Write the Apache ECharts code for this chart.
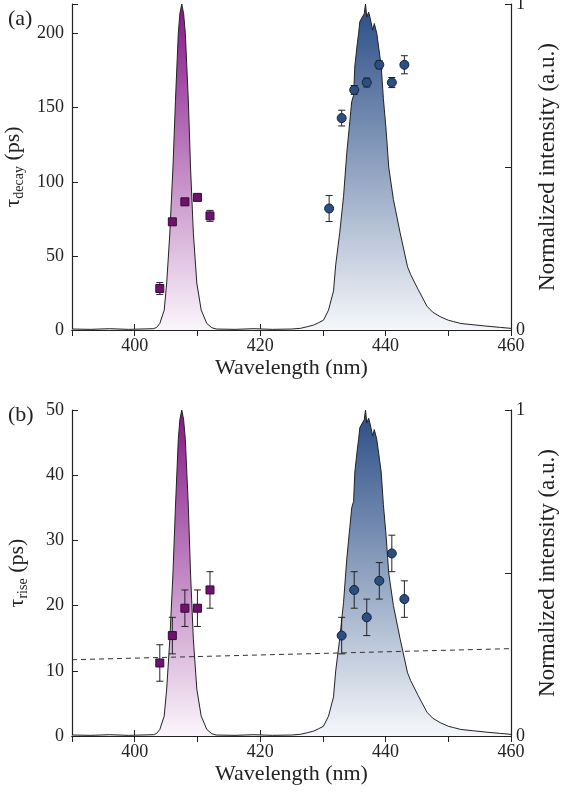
<!DOCTYPE html>
<html>
<head>
<meta charset="utf-8">
<script src="https://cdn.jsdelivr.net/npm/echarts@6/dist/echarts.min.js"></script>
<style>
html,body{margin:0;padding:0;background:#fff;}
#chart{width:565px;height:792px;}
</style>
</head>
<body>
<div id="chart"></div>
<script>
// ---- data ----
const purpleSpectrum = [
  [390,0.003],[393,0.002],[396,0.004],[399,0.002],[401,0.003],[403,0.004],[403.5,0.008],
  [404.0,0.02],[404.7,0.061],[405.1,0.144],[405.6,0.297],[406.1,0.50],[406.5,0.705],
  [406.95,0.91],[407.2,0.97],[407.5,1.0],[407.8,0.97],[408.07,0.91],[408.55,0.705],
  [408.9,0.50],[409.35,0.297],[409.9,0.144],[410.6,0.061],[411.5,0.02],[412.3,0.007],
  [413,0.003],[416,0.002],[419,0.004],[422,0.002],[425,0.003]
];
const blueSpectrum = [
  [425,0.003],[426.4,0.005],[427.5,0.01],[428.5,0.015],[429.3,0.022],[430.1,0.03],
  [430.9,0.061],[431.7,0.12],[432.05,0.20],[432.7,0.30],[433.3,0.41],[433.8,0.54],
  [434.3,0.64],[434.6,0.70],[434.9,0.72],[435.1,0.81],[435.5,0.88],[435.7,0.91],
  [435.9,0.946],[436.3,0.96],[436.6,0.97],[436.8,1.0],[437.0,0.96],[437.3,0.975],
  [437.5,0.96],[437.95,0.92],[438.2,0.94],[438.6,0.91],[438.9,0.91],[439.3,0.81],
  [439.65,0.71],[440.1,0.61],[440.5,0.50],[441.25,0.40],[442.3,0.30],[443.5,0.194],
  [444.0,0.17],[445.2,0.124],[446.6,0.073],[447.5,0.055],[448.7,0.041],[450,0.03],
  [450.8,0.026],[452,0.02],[454,0.016],[456,0.012],[458.3,0.008],[460,0.005]
];
// [wavelength, tau, error]
const decaySquares = [[404,28,4],[406,73,1.5],[408,86.5,2],[410,89.5,1.5],[412,77,3.7]];
const decayCircles = [[431,82,8.8],[433,143,5.3],[435,162,3],[437,167,3],[439,179,2.7],[441,167,3.4],[443,179,6.1]];
const riseSquares = [[404,11.2,2.8],[406,15.4,2.8],[408,19.6,2.8],[410,19.6,2.8],[412,22.4,2.8]];
const riseCircles = [[433,15.4,2.8],[435,22.4,2.8],[437,18.2,2.8],[439,23.8,2.8],[441,28.0,2.8],[443,21.0,2.8]];
const riseFit = [[390,11.7],[460,13.4]];
const xTicks = [400,420,440,460];

// ---- chart ----
const chart = echarts.init(document.getElementById('chart'));
const FONT = '"Liberation Serif", "DejaVu Serif", serif';
const AXC = '#222';

function purpleGrad(){return new echarts.graphic.LinearGradient(0,0,0,1,[{offset:0,color:'#861789'},{offset:1,color:'#fbf5fb'}]);}
function blueGrad(){return new echarts.graphic.LinearGradient(0,0,0,1,[{offset:0,color:'#2a4d86'},{offset:1,color:'#f5f7fa'}]);}

function xBottom(gi){
  return {type:'value',gridIndex:gi,min:390,max:460,interval:10,position:'bottom',
    axisLine:{lineStyle:{color:AXC,width:1.2}},
    axisTick:{inside:true,length:6,lineStyle:{color:AXC}},
    splitLine:{show:false},
    axisLabel:{fontFamily:FONT,fontSize:18,color:'#222',margin:7,
      formatter:v=>xTicks.indexOf(v)>=0?String(v):''},
    name:'Wavelength (nm)',nameLocation:'middle',nameGap:27,
    nameTextStyle:{fontFamily:FONT,fontSize:22,color:'#222'}};
}
function xTop(gi){
  return {type:'value',gridIndex:gi,min:390,max:460,interval:10,position:'top',
    axisLine:{lineStyle:{color:AXC,width:1.2}},
    axisTick:{inside:true,length:6,lineStyle:{color:AXC}},
    splitLine:{show:false},axisLabel:{show:false}};
}
function yLeft(gi,max,interval,sub,step){
  return {type:'value',gridIndex:gi,min:0,max:max,interval:interval,position:'left',
    axisLine:{show:true,lineStyle:{color:AXC,width:1.2}},
    axisTick:{show:true,inside:true,length:6,lineStyle:{color:AXC}},
    splitLine:{show:false},
    axisLabel:{fontFamily:FONT,fontSize:18,color:'#222',margin:8,
      formatter:v=>(v%step===0)?String(v):''},
    name:'{t|τ}{s|'+sub+'}{t| (ps)}',nameLocation:'middle',nameGap:42,nameRotate:90,
    nameTextStyle:{rich:{
      t:{fontFamily:FONT,fontSize:22,color:'#222'},
      s:{fontFamily:FONT,fontSize:14,color:'#222',padding:[12,0,0,0]}
    }}};
}
function yRight(gi){
  return {type:'value',gridIndex:gi,min:0,max:1,interval:0.5,position:'right',
    axisLine:{show:true,lineStyle:{color:AXC,width:1.2}},
    axisTick:{show:true,inside:true,length:6,lineStyle:{color:AXC}},
    splitLine:{show:false},
    axisLabel:{fontFamily:FONT,fontSize:18,color:'#222',margin:5,
      formatter:v=>(v===0||v===1)?String(v):''},
    name:'Normalized intensity (a.u.)',nameLocation:'middle',nameGap:25,nameRotate:90,
    nameTextStyle:{fontFamily:FONT,fontSize:23,color:'#222'}};
}

function areaSeries(data,xi,yi,grad){
  return {type:'line',xAxisIndex:xi,yAxisIndex:yi,data:data,symbol:'none',smooth:false,
    lineStyle:{color:'#222',width:1},areaStyle:{color:grad,opacity:1},z:1,silent:true};
}
function errSeries(data,xi,yi){
  return {type:'custom',xAxisIndex:xi,yAxisIndex:yi,data:data,z:3,silent:true,
    encode:{x:0,y:1},
    renderItem:function(params,api){
      const x=api.value(0),y=api.value(1),e=api.value(2);
      const t=api.coord([x,y+e]),b=api.coord([x,y-e]);
      const w=3.5,st={stroke:'#222',lineWidth:1};
      return {type:'group',children:[
        {type:'line',shape:{x1:t[0],y1:t[1],x2:b[0],y2:b[1]},style:st},
        {type:'line',shape:{x1:t[0]-w,y1:t[1],x2:t[0]+w,y2:t[1]},style:st},
        {type:'line',shape:{x1:b[0]-w,y1:b[1],x2:b[0]+w,y2:b[1]},style:st}
      ]};
    }};
}
function sq(data,xi,yi){
  return {type:'scatter',xAxisIndex:xi,yAxisIndex:yi,data:data.map(d=>[d[0],d[1]]),
    symbol:'rect',symbolSize:8,z:5,
    itemStyle:{color:'#6e126e',borderColor:'#3a073a',borderWidth:1,opacity:1}};
}
function ci(data,xi,yi){
  return {type:'scatter',xAxisIndex:xi,yAxisIndex:yi,data:data.map(d=>[d[0],d[1]]),
    symbol:'circle',symbolSize:9,z:5,
    itemStyle:{color:'#2c4f82',borderColor:'#13213a',borderWidth:1,opacity:1}};
}

const option = {
  animation:false,
  backgroundColor:'#fff',
  title:[
    {text:'(a)',left:3,top:3,textStyle:{fontFamily:FONT,fontSize:22,fontWeight:'normal',color:'#222'}},
    {text:'(b)',left:3,top:399,textStyle:{fontFamily:FONT,fontSize:22,fontWeight:'normal',color:'#222'}}
  ],
  grid:[
    {left:72,right:54,top:4,height:326,containLabel:false,outerBoundsMode:'none'},
    {left:72,right:54,top:410,height:326,containLabel:false,outerBoundsMode:'none'}
  ],
  xAxis:[xBottom(0),xTop(0),xBottom(1),xTop(1)],
  yAxis:[yLeft(0,220,50,'decay',50),yRight(0),yLeft(1,50,10,'rise',10),yRight(1)],
  series:[
    areaSeries(purpleSpectrum,0,1,purpleGrad()),
    areaSeries(blueSpectrum,0,1,blueGrad()),
    errSeries(decaySquares,0,0),
    errSeries(decayCircles,0,0),
    sq(decaySquares,0,0),
    ci(decayCircles,0,0),
    areaSeries(purpleSpectrum,2,3,purpleGrad()),
    areaSeries(blueSpectrum,2,3,blueGrad()),
    {type:'line',xAxisIndex:2,yAxisIndex:2,data:riseFit,symbol:'none',z:2,silent:true,
      lineStyle:{color:'#333',width:1,type:[5,4]}},
    errSeries(riseSquares,2,2),
    errSeries(riseCircles,2,2),
    sq(riseSquares,2,2),
    ci(riseCircles,2,2)
  ]
};
chart.setOption(option);
</script>
</body>
</html>
